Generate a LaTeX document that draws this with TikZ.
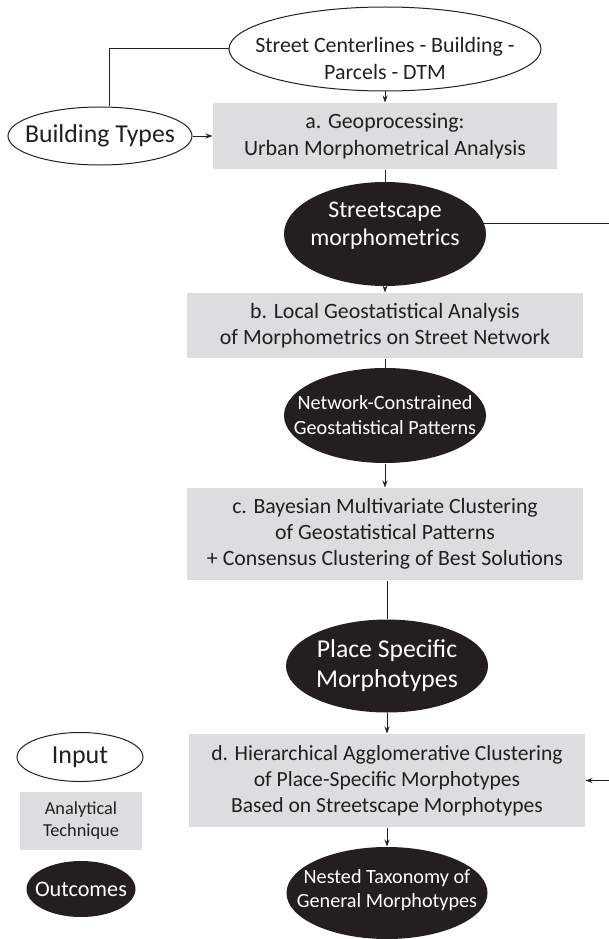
\documentclass[tikz,border=0pt]{standalone}
\usepackage{fontspec}
\setmainfont{Carlito}
\usetikzlibrary{shapes.geometric, arrows.meta}

\definecolor{boxgray}{RGB}{220,221,222}
\definecolor{inkblack}{RGB}{35,31,32}
\newcommand\fs[2]{\fontsize{#1}{#2}\selectfont}

\tikzset{
  inp/.style={draw=inkblack, ellipse, inner sep=0pt},
  tech/.style={fill=boxgray, inner sep=0pt, align=center, text=inkblack},
  outc/.style={fill=inkblack, ellipse, inner sep=0pt},
  txt/.style={align=center, inner sep=0pt, text=inkblack},
  wtxt/.style={align=center, inner sep=0pt, text=white},
  arr/.style={arrows=-{Stealth[length=7pt, width=5pt]}},
}

\begin{document}
\begin{tikzpicture}[x=1pt, y=-1pt, line width=1pt, color=inkblack]
\useasboundingbox (0,0) rectangle (609,939);
% inputs and steps
\node (1)[inp, minimum width=312pt, minimum height=84pt, label={[txt, font=\fs{21.9}{27}, yshift=-9pt]center:Street Centerlines - Building -\\Parcels - DTM}] at (385,49) {};
\node (2)[inp, minimum width=184pt, minimum height=58pt, label={[txt, font=\fs{25.8}{28}]center:Building Types}] at (100,136) {};
\node (3)[tech, minimum width=344pt, minimum height=66pt, font=\fs{21.9}{27}] at (385,136) {a. Geoprocessing:\\Urban Morphometrical Analysis};
\node (4)[outc, minimum width=202pt, minimum height=104pt, label={[wtxt, font=\fs{23.8}{28}, yshift=8pt]center:Streetscape\\morphometrics}] at (385,234) {};
\node (5)[tech, minimum width=396pt, minimum height=65pt, font=\fs{21.9}{26}] at (385,325.5) {b. Local Geostatistical Analysis\\of Morphometrics on Street Network};
\node (6)[outc, minimum width=202pt, minimum height=95pt, label={[wtxt, font=\fs{20.2}{25}]center:Network-Constrained\\Geostatistical Patterns}] at (385,415.5) {};
\node (7)[tech, minimum width=396pt, minimum height=92pt, font=\fs{21.8}{26}] at (385,534) {c. Bayesian Multivariate Clustering\\of Geostatistical Patterns\\+ Consensus Clustering of Best Solutions};
\node (8)[outc, minimum width=202pt, minimum height=93pt, label={[wtxt, font=\fs{25.7}{30}]center:Place Specific\\Morphotypes}] at (387,666) {};
\node (9)[tech, minimum width=396pt, minimum height=93pt, font=\fs{21.6}{26}] at (387,780.5) {d. Hierarchical Agglomerative Clustering\\of Place-Specific Morphotypes\\Based on Streetscape Morphotypes};
\node (10)[outc, minimum width=201pt, minimum height=92pt, label={[wtxt, font=\fs{20.2}{24}, yshift=3pt]center:Nested Taxonomy of\\General Morphotypes}] at (387,893) {};
% legend
\node (11)[inp, minimum width=126pt, minimum height=49pt, label={[txt, font=\fs{26}{28}]center:Input}] at (80,757) {};
\node (12)[tech, minimum width=122pt, minimum height=58pt, font=\fs{18.3}{22}] at (81,821) {Analytical\\Technique};
\node (13)[outc, minimum width=109pt, minimum height=56pt, label={[wtxt, font=\fs{22.2}{24}]center:Outcomes}] at (81,889) {};
\coordinate (r) at (625,0);
\draw ([xshift=9pt]2.north) |- (1.west);
\draw[arr] (1) -- (3);
\draw[arr] (2) -- (3);
\draw (3) -- (4);
\draw[arr] (4) -- (5);
\draw (5) -- (6);
\draw[arr] (6) -- (7);
\draw (8.north |- 7.south) -- (8);
\draw[arr] (8) -- (9);
\draw[arr] (9) -- (10);
\draw[arr] (4.6) -- (4.6 -| r) |- (9.east);
\end{tikzpicture}
\end{document}
